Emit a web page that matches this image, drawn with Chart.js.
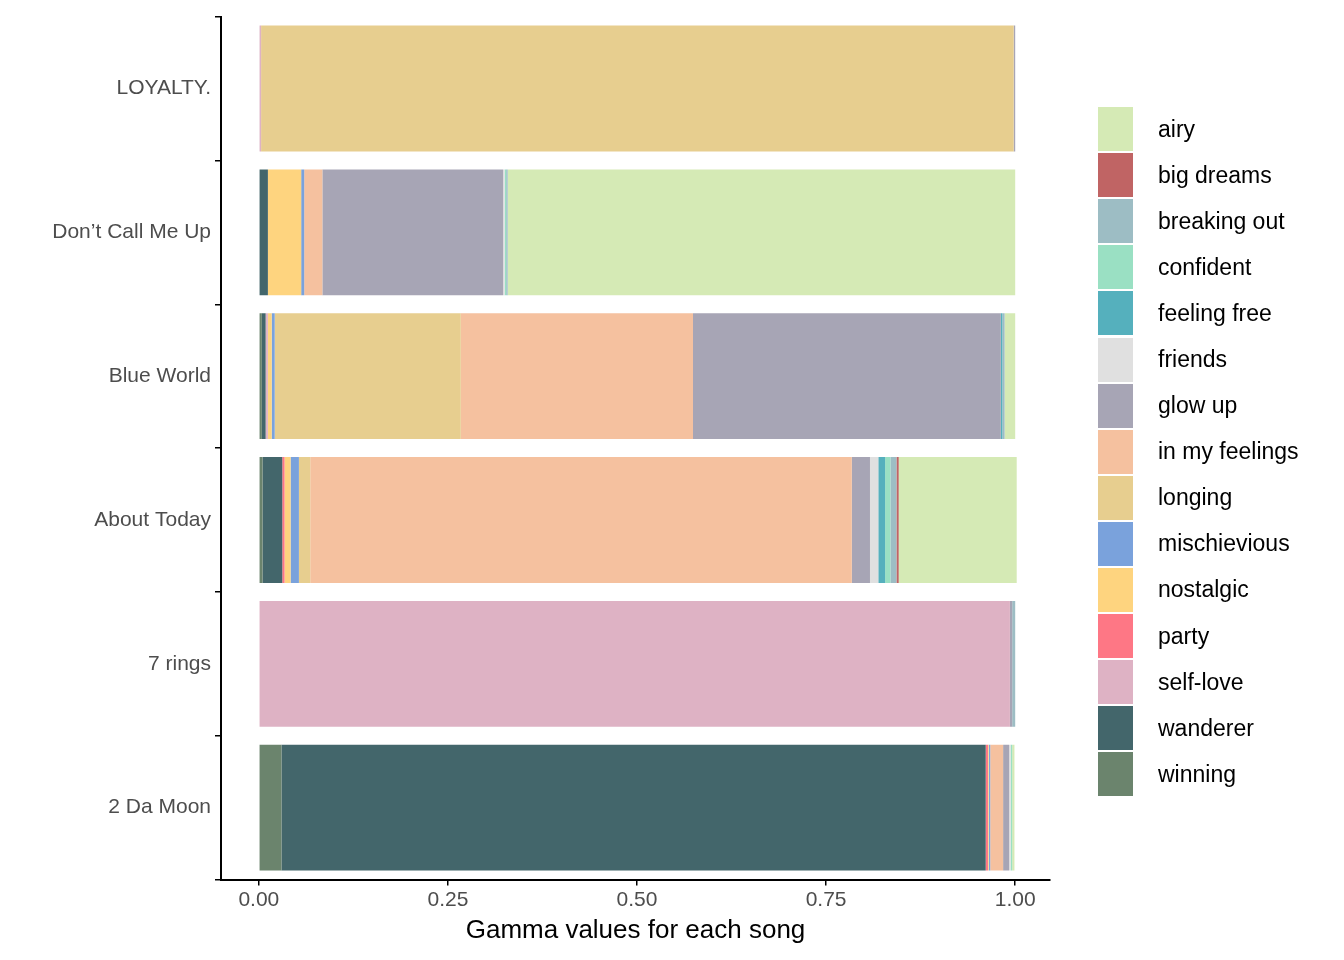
<!DOCTYPE html><html><head><meta charset="utf-8">
<script src="https://cdn.jsdelivr.net/npm/chart.js@4"></script>
<style>body{margin:0;background:#fff;font-family:"Liberation Sans",Arial,sans-serif}
#wrap{position:relative;width:1344px;height:960px}
#leg{position:absolute;left:1098px;top:106px}
.it{height:46.1px;display:flex;align-items:center;font-size:23px;color:#000}
.sw{width:35px;height:44px;margin-right:25px}</style></head><body>
<div id="wrap"><canvas id="c" width="1344" height="960"></canvas><div id="leg"></div></div>
<script>
const songs=["LOYALTY.","Don’t Call Me Up","Blue World","About Today","7 rings","2 Da Moon"];
const moods=["airy","big dreams","breaking out","confident","feeling free","friends","glow up","in my feelings","longing","mischievious","nostalgic","party","self-love","wanderer","winning"];
const colors=["#d5eab5","#c06464","#9dbdc4","#9ae0c3","#55b0bd","#e0e0e0","#a7a5b5","#f5c19f","#e7ce8f","#7aa2dc","#fed47f","#fe7785","#deb2c4","#43666b","#6b846d"];
// values per mood, in song order
const airy=[0,0.671,0.014,0.156,0,0.003];
const bigDreams=[0,0,0,0.003,0,0];
const breakingOut=[0,0.002,0.003,0.008,0.004,0];
const confident=[0,0.002,0,0.007,0,0.002];
const feelingFree=[0,0,0.002,0.009,0,0];
const friends=[0,0.002,0,0.011,0,0.002];
const glowUp=[0.002,0.239,0.407,0.024,0.003,0.008];
const inMyFeelings=[0,0.024,0.307,0.716,0,0.017];
const longing=[0.995,0,0.246,0.015,0,0];
const mischievious=[0,0.004,0.004,0.011,0,0.002];
const nostalgic=[0,0.044,0.005,0.008,0,0.001];
const party=[0,0,0,0.003,0,0.003];
const selfLove=[0.002,0,0.003,0,0.993,0];
const wanderer=[0.001,0.011,0.005,0.026,0,0.931];
const winning=[0,0.001,0.004,0.005,0,0.030];
const series=[airy,bigDreams,breakingOut,confident,feelingFree,friends,glowUp,inMyFeelings,longing,mischievious,nostalgic,party,selfLove,wanderer,winning];
const xTicks=[0,0.25,0.5,0.75,1];
const datasets=[];
for(let i=moods.length-1;i>=0;i--)datasets.push({label:moods[i],data:series[i],backgroundColor:colors[i],borderWidth:0,categoryPercentage:0.875,barPercentage:1});
const leg=document.getElementById('leg');
moods.forEach((m,i)=>{leg.innerHTML+=`<div class="it"><div class="sw" style="background:${colors[i]}"></div>${m}</div>`});
const F='Liberation Sans';
new Chart(document.getElementById('c'),{type:'bar',data:{labels:songs,datasets},
options:{indexAxis:'y',responsive:false,animation:false,
layout:{padding:{top:12,right:294,bottom:14,left:0}},
plugins:{legend:{display:false},tooltip:{enabled:false}},
scales:{
x:{stacked:true,min:-0.05,max:1.046,afterBuildTicks:a=>{a.ticks=xTicks.map(v=>({value:v}))},
grid:{display:true,drawOnChartArea:false,drawTicks:true,tickLength:6,color:'#000',lineWidth:1.5},border:{display:true,color:'#000',width:2},
ticks:{color:'#4d4d4d',font:{size:21,family:F},padding:2,callback:v=>v.toFixed(2)},
title:{display:true,text:'Gamma values for each song',color:'#000',font:{size:26,family:F},padding:{top:0,bottom:0}}},
y:{stacked:true,afterFit:s=>{s.width=221},grid:{display:true,drawOnChartArea:false,tickLength:6,color:'#000',lineWidth:1.5},border:{display:true,color:'#000',width:2},
ticks:{color:'#4d4d4d',font:{size:21,family:F},padding:4}}}}});
</script></body></html>
